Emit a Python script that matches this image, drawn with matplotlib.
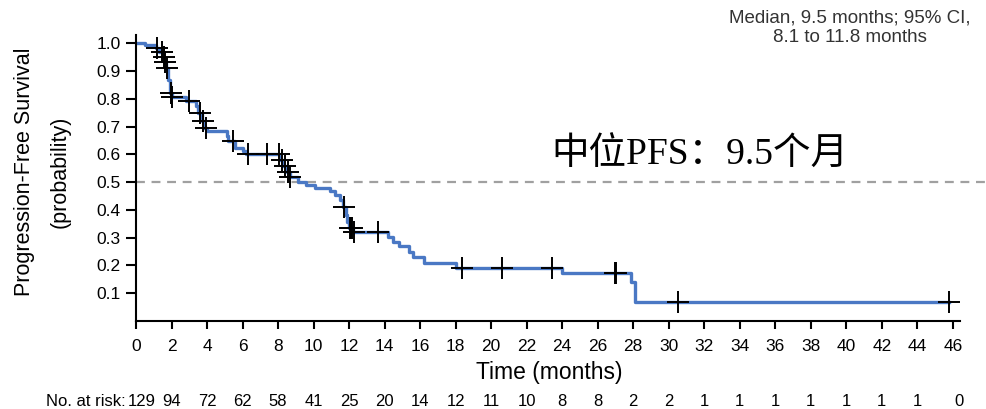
import numpy as np
import matplotlib
matplotlib.use("Agg")
import matplotlib.pyplot as plt

# ---- data ----
step_times = [0.0, 0.5, 1.1, 1.3, 1.5, 1.6, 1.7, 1.8, 1.9, 2.0, 2.8, 3.4, 3.5, 3.7, 3.85, 4.0,
              5.1, 5.2, 5.6, 6.0, 6.2, 8.1, 8.3, 8.5, 8.7, 9.1, 9.6, 10.1, 10.9, 11.2, 11.5,
              11.65, 11.8, 11.9, 12.0, 12.2, 14.2, 14.5, 14.8, 15.4, 15.6, 16.2, 18.0, 24.0,
              27.9, 28.1]
step_surv = [1.0, 0.993, 0.982, 0.968, 0.950, 0.932, 0.910, 0.867, 0.820, 0.806, 0.791, 0.773,
             0.748, 0.719, 0.694, 0.683, 0.665, 0.647, 0.622, 0.612, 0.601, 0.579, 0.558, 0.536,
             0.518, 0.500, 0.489, 0.478, 0.468, 0.453, 0.435, 0.410, 0.381, 0.356, 0.335, 0.320,
             0.302, 0.284, 0.270, 0.248, 0.230, 0.209, 0.191, 0.173, 0.140, 0.068]
end_time = 45.8
censor_times = [1.2, 1.45, 1.55, 1.65, 1.75, 1.95, 2.05, 3.0, 3.6, 3.8, 3.95, 5.45, 6.3, 7.4,
                8.05, 8.2, 8.4, 8.55, 8.7, 11.7, 12.05, 12.1, 12.15, 12.25, 13.6, 18.35,
                20.6, 23.4, 26.95, 27.05, 30.5, 45.8]
risk_times = list(range(0, 47, 2))
risk_counts = [129, 94, 72, 62, 58, 41, 25, 20, 14, 12, 11, 10, 8, 8, 2, 2, 1, 1, 1, 1, 1, 1, 1, 0]
yticks = [0.1, 0.2, 0.3, 0.4, 0.5, 0.6, 0.7, 0.8, 0.9, 1.0]

sans = ['Liberation Sans', 'DejaVu Sans']

fig = plt.figure(figsize=(9.87, 4.09), dpi=100)
ax = fig.add_axes([136/987, 1-321/409, (960-136)/987, (321-35)/409])

t_arr = np.array(step_times + [end_time])
s_arr = np.array(step_surv + [step_surv[-1]])
ax.step(t_arr, s_arr, where='post', color='#4a78c4', lw=2.4, zorder=2)

st = np.array(step_times)
ss = np.array(step_surv)
cy = [ss[np.searchsorted(st, c, side='right') - 1] for c in censor_times]
ax.plot(censor_times, cy, ls='none', marker='+', ms=16, mew=1.4, color='black', zorder=3)

ax.axhline(0.5, xmin=0, xmax=1.033, color='#a0a0a0', lw=1.6, ls=(0, (4, 3)), clip_on=False, zorder=1)

ax.set_xlim(0, 46.4)
ax.set_ylim(0, 1.03)
ax.set_xticks(risk_times)
ax.set_xticklabels([str(t) for t in risk_times], fontsize=12.5, family=sans)
ax.set_yticks(yticks)
ax.set_yticklabels([f"{v:.1f}" for v in yticks], fontsize=12.5, family=sans)
ax.tick_params(axis='x', direction='out', length=6, width=1.5, pad=7)
ax.tick_params(axis='y', direction='out', length=7, width=1.5, pad=4)
for s in ['top', 'right']:
    ax.spines[s].set_visible(False)
for s in ['left', 'bottom']:
    ax.spines[s].set_linewidth(1.5)

fig.text(549/987, 1-373/409, 'Time (months)', ha='center', va='center', fontsize=16.5, family=sans)
fig.text(25/987, 1-172/409, 'Progression-Free Survival', rotation=90, ha='center', va='center',
         fontsize=15.5, family=sans)
fig.text(60/987, 1-172/409, '(probability)', rotation=90, ha='center', va='center',
         fontsize=15.5, family=sans)

# risk table
fig.text(126/987, 1-401/409, 'No. at risk:', ha='right', va='center', fontsize=12, family=sans)
for t, n in zip(risk_times, risk_counts):
    x_fig = ax.transData.transform((t, 0))[0] / fig.dpi / fig.get_figwidth()
    fig.text(x_fig + (6/987 if t == 0 else 0) + (6/987 if t == 46 else 0), 1-401/409, str(n),
             ha='center', va='center', fontsize=12, family=sans)

fig.text(850/987, 1-28/409, 'Median, 9.5 months; 95% CI,\n8.1 to 11.8 months', ha='center',
         va='center', fontsize=13.5, family=sans, color='#333333', linespacing=1.2)

fig.text(551/987, 1-155/409, '中位PFS：9.5个月', ha='left', va='center', fontsize=27,
         family=['Liberation Serif', 'Noto Sans CJK SC'], color='black')

fig.savefig('out.png', dpi=100)
